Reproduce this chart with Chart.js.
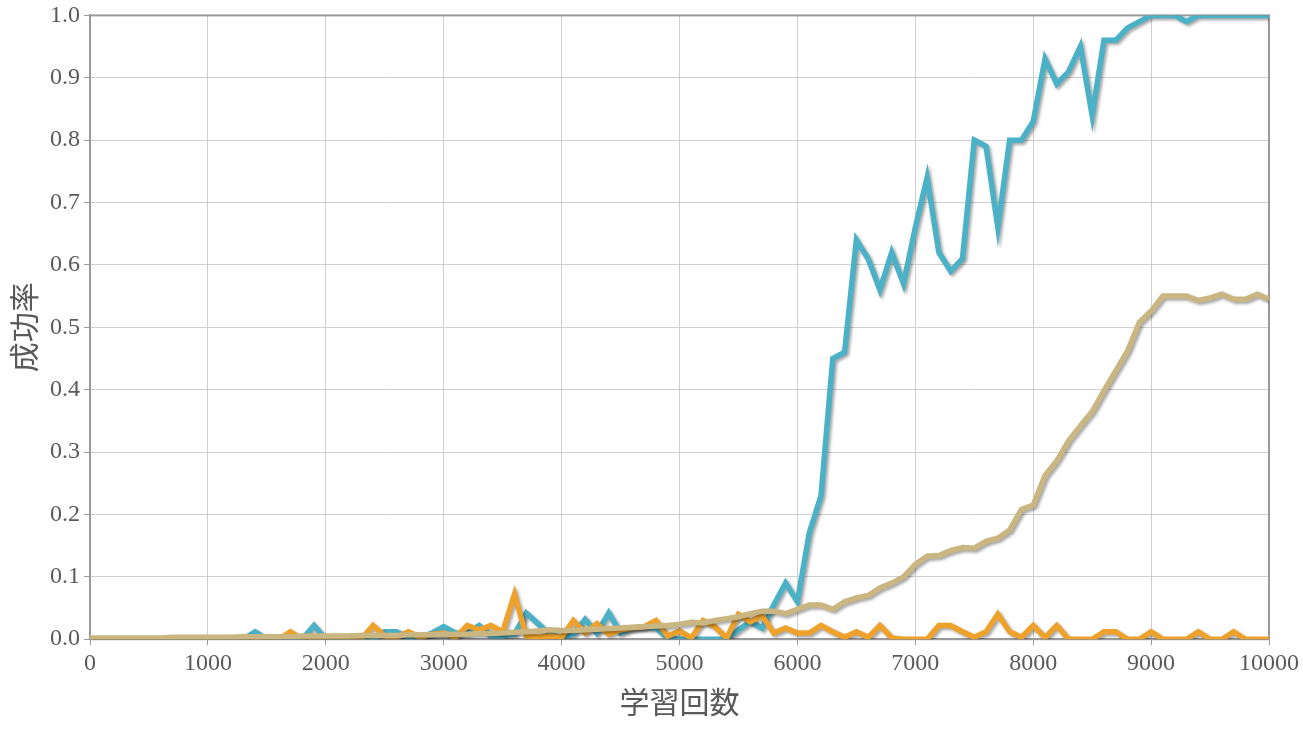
<!DOCTYPE html>
<html>
<head>
<meta charset="utf-8">
<script src="https://cdn.jsdelivr.net/npm/chart.js@4"></script>
<style>
  body { margin: 0; background: #fff; }
  canvas { display: block; }
</style>
</head>
<body>
<canvas id="chart" width="1303" height="735"></canvas>
<script>
// training steps (x values)
const steps = [
  0, 100, 200, 300, 400, 500, 600, 700, 800, 900,
  1000, 1100, 1200, 1300, 1400, 1500, 1600, 1700, 1800, 1900,
  2000, 2100, 2200, 2300, 2400, 2500, 2600, 2700, 2800, 2900,
  3000, 3100, 3200, 3300, 3400, 3500, 3600, 3700, 3800, 3900,
  4000, 4100, 4200, 4300, 4400, 4500, 4600, 4700, 4800, 4900,
  5000, 5100, 5200, 5300, 5400, 5500, 5600, 5700, 5800, 5900,
  6000, 6100, 6200, 6300, 6400, 6500, 6600, 6700, 6800, 6900,
  7000, 7100, 7200, 7300, 7400, 7500, 7600, 7700, 7800, 7900,
  8000, 8100, 8200, 8300, 8400, 8500, 8600, 8700, 8800, 8900,
  9000, 9100, 9200, 9300, 9400, 9500, 9600, 9700, 9800, 9900,
  10000
];

// success rates
const tealRate = [
  0, 0, 0, 0, 0, 0, 0, 0, 0, 0,
  0, 0, 0, 0, 0.012, 0, 0, 0, 0, 0.022,
  0, 0, 0, 0, 0, 0.012, 0.012, 0.003, 0.003, 0.01,
  0.02, 0.01, 0.01, 0.022, 0.005, 0.005, 0.008, 0.042, 0.025, 0.008,
  0.003, 0.008, 0.032, 0.01, 0.042, 0.01, 0.018, 0.02, 0.018, 0.002,
  0, 0, 0, 0, 0, 0.015, 0.028, 0.018, 0.055, 0.09,
  0.06, 0.17, 0.23, 0.45, 0.46, 0.64, 0.61, 0.56, 0.62, 0.57,
  0.66, 0.74, 0.62, 0.59, 0.61, 0.80, 0.79, 0.66, 0.80, 0.80,
  0.83, 0.93, 0.89, 0.91, 0.95, 0.84, 0.96, 0.96, 0.98, 0.99,
  1.0, 1.0, 1.0, 0.99, 1.0, 1.0, 1.0, 1.0, 1.0, 1.0,
  1.0
];

const orangeRate = [
  0, 0, 0, 0, 0, 0, 0, 0, 0, 0,
  0, 0, 0, 0, 0, 0, 0, 0.012, 0, 0,
  0, 0, 0, 0, 0.022, 0.005, 0.003, 0.012, 0.003, 0.008,
  0.01, 0.003, 0.022, 0.015, 0.022, 0.012, 0.072, 0.005, 0.003, 0.005,
  0.003, 0.03, 0.01, 0.025, 0.008, 0.015, 0.018, 0.02, 0.03, 0.005,
  0.013, 0.002, 0.03, 0.02, 0.002, 0.04, 0.028, 0.038, 0.01, 0.018,
  0.01, 0.01, 0.022, 0.012, 0.003, 0.012, 0.003, 0.022, 0.002, 0,
  0, 0, 0.022, 0.022, 0.012, 0.003, 0.012, 0.04, 0.012, 0.003,
  0.022, 0.003, 0.022, 0, 0, 0, 0.012, 0.012, 0, 0,
  0.012, 0, 0, 0, 0.012, 0, 0, 0.012, 0, 0,
  0
];

const tanRate = [
  0.002, 0.002, 0.002, 0.002, 0.002, 0.002, 0.002, 0.003, 0.003, 0.003,
  0.003, 0.003, 0.003, 0.004, 0.004, 0.004, 0.004, 0.004, 0.005, 0.005,
  0.005, 0.005, 0.005, 0.006, 0.006, 0.006, 0.006, 0.007, 0.007, 0.007,
  0.008, 0.008, 0.008, 0.009, 0.009, 0.010, 0.011, 0.012, 0.013, 0.015,
  0.014, 0.014, 0.015, 0.016, 0.017, 0.018, 0.019, 0.020, 0.021, 0.022,
  0.024, 0.027, 0.026, 0.030, 0.033, 0.036, 0.041, 0.045, 0.045, 0.041,
  0.048, 0.055, 0.055, 0.048, 0.060, 0.066, 0.070, 0.082, 0.090, 0.100,
  0.120, 0.133, 0.134, 0.142, 0.147, 0.146, 0.157, 0.162, 0.175, 0.208,
  0.215, 0.262, 0.286, 0.318, 0.342, 0.365, 0.398, 0.430, 0.462, 0.508,
  0.526, 0.550, 0.550, 0.550, 0.543, 0.547, 0.553, 0.545, 0.545, 0.553,
  0.545
];

const xTitle = '学習回数';
const yTitle = '成功率';

function toPoints(values) {
  return values.map((v, i) => ({ x: steps[i], y: v }));
}

// grey frame around the plot area, drawn under the lines
const framePlugin = {
  id: 'frame',
  beforeDatasetsDraw(chart) {
    const { ctx, chartArea: a } = chart;
    ctx.save();
    ctx.strokeStyle = '#9a9a9a';
    ctx.lineWidth = 2;
    ctx.strokeRect(a.left, a.top, a.right - a.left, a.bottom - a.top);
    ctx.restore();
  }
};

// soft drop shadow under every line
const shadowPlugin = {
  id: 'lineShadow',
  beforeDatasetsDraw(chart) {
    const ctx = chart.ctx;
    ctx.save();
    ctx.shadowColor = 'rgba(0, 0, 0, 0.35)';
    ctx.shadowBlur = 3;
    ctx.shadowOffsetX = 2;
    ctx.shadowOffsetY = 2;
  },
  afterDatasetsDraw(chart) {
    chart.ctx.restore();
  }
};

const serif = "'Liberation Serif', 'Times New Roman', serif";
const xTickFont = { family: serif, size: 24 };
const yTickFont = { family: serif, size: 24, lineHeight: 0.95 };
const titleFont = { family: "'Noto Sans CJK JP', sans-serif", size: 30 };

new Chart(document.getElementById('chart'), {
  type: 'line',
  data: {
    datasets: [
      { data: toPoints(tanRate), borderColor: '#c9b680', order: 0 },
      { data: toPoints(orangeRate), borderColor: '#eea22b', order: 1 },
      { data: toPoints(tealRate), borderColor: '#4bb1c6', order: 2 }
    ]
  },
  options: {
    responsive: false,
    animation: false,
    layout: { padding: { left: 2, right: 0, top: 0, bottom: 11 } },
    elements: {
      line: { borderWidth: 5.5, tension: 0, borderJoinStyle: 'miter', fill: false },
      point: { radius: 0 }
    },
    plugins: {
      legend: { display: false },
      tooltip: { enabled: false }
    },
    scales: {
      x: {
        type: 'linear',
        min: 0,
        max: 10000,
        ticks: {
          stepSize: 1000,
          color: '#595959',
          font: xTickFont,
          maxRotation: 0,
          padding: 4,
          callback: v => String(v)
        },
        grid: { color: '#cfcfcf', lineWidth: 1, tickLength: 6, tickColor: '#9a9a9a' },
        border: { color: '#9a9a9a', width: 2 },
        title: { display: true, text: xTitle, color: '#595959', font: titleFont, padding: { top: 2 } }
      },
      y: {
        min: 0,
        max: 1,
        ticks: {
          stepSize: 0.1,
          color: '#595959',
          font: yTickFont,
          padding: 4,
          callback: v => v.toFixed(1)
        },
        grid: { color: '#cfcfcf', lineWidth: 1, tickLength: 6, tickColor: '#9a9a9a' },
        border: { color: '#9a9a9a', width: 2 },
        title: { display: true, text: yTitle, color: '#595959', font: titleFont, padding: { bottom: 4 } }
      }
    }
  },
  plugins: [framePlugin, shadowPlugin]
});
</script>
</body>
</html>
